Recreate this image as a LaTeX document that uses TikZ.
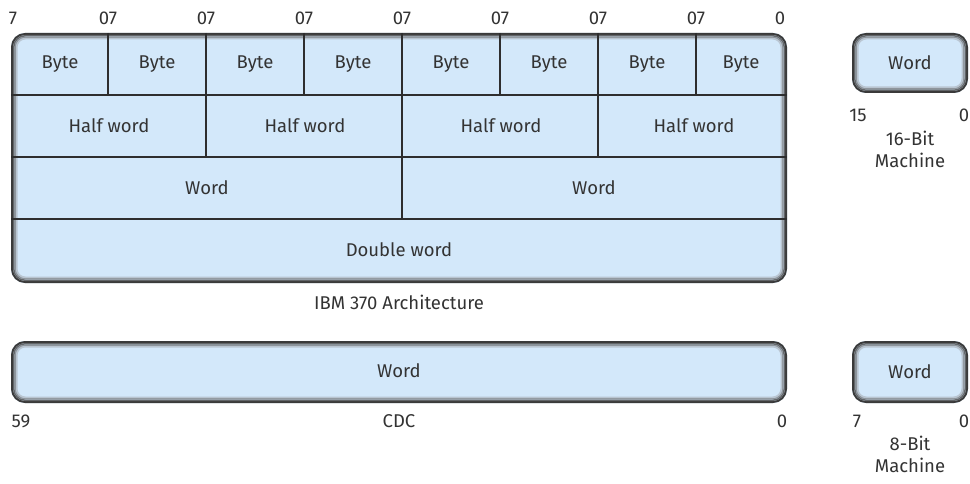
\documentclass[tikz,border=0pt]{standalone}
\usepackage{fontspec}
\setmainfont{Fira Sans}
\definecolor{cellfill}{HTML}{D3E8FA}
\definecolor{lineC}{HTML}{2E2E2E}
\definecolor{textC}{HTML}{333333}
\definecolor{bevA}{HTML}{3A3A3A}
\definecolor{bevB}{HTML}{626568}
\definecolor{bevC}{HTML}{8E959C}
\definecolor{bevD}{HTML}{B9C5D1}
\newcommand{\bevelbox}[1]{%
  \draw[line width=2pt, draw=bevA, rounded corners=13pt] ([shift={(1,1)}]#1.north west) rectangle ([shift={(-1,-1)}]#1.south east);
  \draw[line width=1.5pt, draw=bevB, rounded corners=11.5pt] ([shift={(2.75,2.75)}]#1.north west) rectangle ([shift={(-2.75,-2.75)}]#1.south east);
  \draw[line width=1.5pt, draw=bevC, rounded corners=10pt] ([shift={(4.25,4.25)}]#1.north west) rectangle ([shift={(-4.25,-4.25)}]#1.south east);
  \draw[line width=1.5pt, draw=bevD, rounded corners=8.5pt] ([shift={(5.75,5.75)}]#1.north west) rectangle ([shift={(-5.75,-5.75)}]#1.south east);
}
\tikzset{
  boxfill/.style={fill=cellfill, rounded corners=14pt, inner sep=0pt, outer sep=0pt, anchor=north west},
  lbl/.style={text=textC, font=\fontsize{18.5}{22}\selectfont, inner sep=0pt},
  divline/.style={draw=lineC, line width=2pt},
}
\begin{document}
\begin{tikzpicture}[x=1pt,y=-1pt]
\useasboundingbox (0,0) rectangle (970,484);
% IBM 370 box
\node[boxfill, minimum width=776pt, minimum height=250pt] (ibm) at (11,33) {};
\bevelbox{ibm}
% horizontal dividers
\foreach \yy/\nm in {95/ha,157/hb,219/hc}{
  \coordinate (\nm l) at (11,\yy);
  \coordinate (\nm r) at (787,\yy);
  \draw[divline] (\nm l) -- (\nm r);
}
% vertical dividers row 1 (bytes)
\foreach \xx/\nm in {108/va,304/vc,500/ve,696/vg}{
  \coordinate (\nm t) at (\xx,33);
  \coordinate (\nm b) at (\xx,95);
  \draw[divline] (\nm t) -- (\nm b);
}
\foreach \xx/\nm in {206/vb,598/vf}{
  \coordinate (\nm t) at (\xx,33);
  \coordinate (\nm b) at (\xx,157);
  \draw[divline] (\nm t) -- (\nm b);
}
\coordinate (vdt) at (402,33);
\coordinate (vdb) at (402,219);
\draw[divline] (vdt) -- (vdb);
% byte labels
\foreach \xx [count=\i] in {60,157,255,353,451,549,647,741}{
  \node[lbl] (byte\i) at (\xx,64) {Byte};
}
\foreach \xx [count=\i] in {109,305,501,694}{
  \node[lbl] (half\i) at (\xx,126) {Half word};
}
\node[lbl] (word1) at (207,188) {Word};
\node[lbl] (word2) at (594,188) {Word};
\node[lbl] (dword) at (399,250) {Double word};
% top bit labels
\node[lbl] (b7) at (13,18) {7};
\foreach \xx [count=\i] in {108,206,304,402,500,598,696}{
  \node[lbl] (t\i) at (\xx,18) {07};
}
\node[lbl] (b0) at (780,18) {0};
\node[lbl] (ibmcap) at (399,302) {IBM 370 Architecture};
% CDC
\node[boxfill, minimum width=776pt, minimum height=62pt] (cdc) at (11,341) {};
\bevelbox{cdc}
\node[lbl] (cdcword) at (399,371) {Word};
\node[lbl] (c59) at (21,421) {59};
\node[lbl] (ccap) at (399,421) {CDC};
\node[lbl] (c0) at (782,421) {0};
% 16-bit
\node[boxfill, minimum width=116pt, minimum height=60pt] (m16) at (852,33) {};
\bevelbox{m16}
\node[lbl] (m16w) at (910,63) {Word};
\node[lbl] (m16a) at (858,115) {15};
\node[lbl] (m16b) at (964,115) {0};
\node[lbl] (m16c) at (910,138) {16-Bit};
\node[lbl] (m16d) at (910,160) {Machine};
% 8-bit
\node[boxfill, minimum width=116pt, minimum height=62pt] (m8) at (852,341) {};
\bevelbox{m8}
\node[lbl] (m8w) at (910,372) {Word};
\node[lbl] (m8a) at (857,421) {7};
\node[lbl] (m8b) at (964,421) {0};
\node[lbl] (m8c) at (910,443) {8-Bit};
\node[lbl] (m8d) at (910,465) {Machine};
\end{tikzpicture}
\end{document}
